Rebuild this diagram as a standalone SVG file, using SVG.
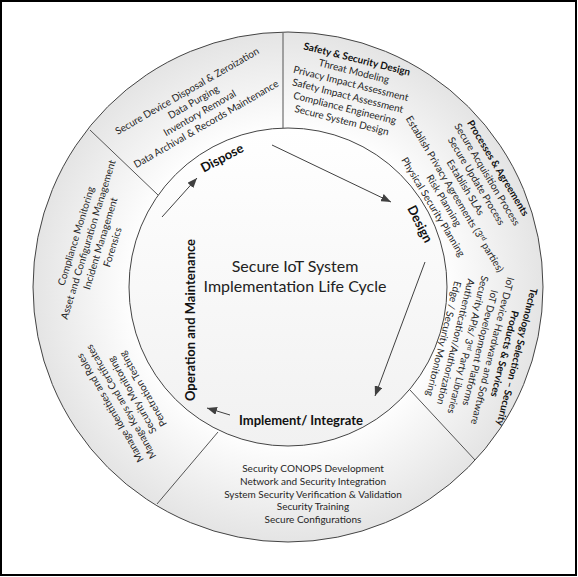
<svg xmlns="http://www.w3.org/2000/svg" width="578" height="577" viewBox="0 0 578 577">
<style>
.t{font-family:Lato,"Open Sans","Liberation Sans",sans-serif;font-size:10px;fill:#262626;text-anchor:middle}
.b{font-weight:bold;fill:#111}
.lbl{font-family:Lato,"Open Sans","Liberation Sans",sans-serif;font-size:13px;font-weight:bold;fill:#111;text-anchor:middle}
.ttl{font-family:Lato,"Open Sans","Liberation Sans",sans-serif;font-size:16px;fill:#222;text-anchor:middle}
.div{stroke:#555;stroke-width:1;fill:none}
.arr{stroke:#404040;stroke-width:1;fill:none;marker-end:url(#ah)}
</style>
<defs>
<radialGradient id="ring" cx="288" cy="287" r="256" gradientUnits="userSpaceOnUse">
<stop offset="0.6" stop-color="#ffffff"/>
<stop offset="1" stop-color="#e4e4e4"/>
</radialGradient>
<linearGradient id="core" x1="0" y1="0" x2="0" y2="1">
<stop offset="0" stop-color="#ffffff"/>
<stop offset="1" stop-color="#f1f1f1"/>
</linearGradient>
<marker id="ah" viewBox="0 0 10 8" refX="10" refY="4" markerWidth="10" markerHeight="8" markerUnits="userSpaceOnUse" orient="auto">
<path d="M0,0 L10,4 L0,8 Z" fill="#404040"/>
</marker>
</defs>
<rect x="0" y="0" width="578" height="577" fill="#ffffff"/>
<rect x="1" y="1" width="575" height="574" fill="none" stroke="#000" stroke-width="2"/>
<g id="wheel">
<circle cx="288" cy="287" r="255" fill="url(#ring)" stroke="#444" stroke-width="1"/>
<circle cx="288" cy="287" r="159" fill="url(#core)" stroke="#444" stroke-width="1"/>
<line class="div" x1="283" y1="33" x2="283" y2="128"/>
<line class="div" x1="90" y1="130" x2="158" y2="195"/>
<line class="div" x1="157" y1="504" x2="218" y2="432"/>
<line class="div" x1="410" y1="390" x2="475" y2="460"/>
</g>
<g id="title">
<text class="ttl" x="295" y="272">Secure IoT System</text>
<text class="ttl" x="295" y="292">Implementation Life Cycle</text>
</g>
<g id="dispose-sector" transform="translate(187,91) rotate(-30)">
<text class="t" x="0" y="3.5">Secure Device Disposal &amp; Zeroization</text>
<text class="t" x="0" y="16.2">Data Purging</text>
<text class="t" x="0" y="28.9">Inventory Removal</text>
<text class="t" x="0" y="41.6">Data Archival &amp; Records Maintenance</text>
</g>
<g id="operation-sector" transform="translate(76,236) rotate(-73)">
<text class="t" x="0" y="3.5">Compliance Monitoring</text>
<text class="t" x="0" y="16.2">Asset and Configuration Management</text>
<text class="t" x="0" y="28.9">Incident Management</text>
<text class="t" x="0" y="41.6">Forensics</text>
</g>
<g id="maintenance-sector" transform="translate(110,408) rotate(-120)">
<text class="t" x="0" y="3.5">Manage Identities and Roles</text>
<text class="t" x="0" y="16.2">Manage Keys and Certificates</text>
<text class="t" x="0" y="28.9">Security Monitoring</text>
<text class="t" x="0" y="41.6">Penetration Testing</text>
</g>
<g id="implement-sector">
<text class="t" x="313" y="472">Security CONOPS Development</text>
<text class="t" x="313" y="485">Network and Security Integration</text>
<text class="t" x="313" y="498">System Security Verification &amp; Validation</text>
<text class="t" x="313" y="510">Security Training</text>
<text class="t" x="313" y="523">Secure Configurations</text>
</g>
<g id="safety-sector" transform="translate(357,59) rotate(14)">
<text class="t b" x="0" y="3.5">Safety &amp; Security Design</text>
<text class="t" x="0" y="16.1">Threat Modeling</text>
<text class="t" x="0" y="28.7">Privacy Impact Assessment</text>
<text class="t" x="0" y="41.3">Safety Impact Assessment</text>
<text class="t" x="0" y="53.9">Compliance Engineering</text>
<text class="t" x="0" y="66.5">Secure System Design</text>
</g>
<g id="processes-sector" transform="translate(498,168) rotate(59)">
<text class="t b" x="0" y="3.5">Processes &amp; Agreements</text>
<text class="t" x="0" y="16.1">Secure Acquisition Process</text>
<text class="t" x="0" y="28.7">Secure Update Process</text>
<text class="t" x="0" y="41.3">Establish SLAs</text>
<text class="t" x="0" y="53.9">Establish Privacy Agreements (3<tspan font-size="6.5" dy="-3.5">rd</tspan><tspan dy="3.5"> parties)</tspan></text>
<text class="t" x="0" y="66.5">Risk Planning</text>
<text class="t" x="0" y="79.1">Physical Security Planning</text>
</g>
<g id="technology-sector" transform="translate(517,357) rotate(104)">
<text class="t b" x="0" y="3.5">Technology Selection – Security</text>
<text class="t b" x="0" y="16.1">Products &amp; Services</text>
<text class="t" x="0" y="28.7">IoT Device Hardware and Software</text>
<text class="t" x="0" y="41.3">IoT Development Platforms</text>
<text class="t" x="0" y="53.9">Security APIs/ 3<tspan font-size="6.5" dy="-3.5">rd</tspan><tspan dy="3.5"> Party Libraries</tspan></text>
<text class="t" x="0" y="66.5">Authentication/Authorization</text>
<text class="t" x="0" y="79.1">Edge / Security Monitoring</text>
</g>
<g id="dispose">
<text class="lbl" transform="translate(222,158) rotate(-28)" x="0" y="4.5">Dispose</text>
</g>
<g id="design">
<text class="lbl" transform="translate(420,224) rotate(63)" x="0" y="4.5">Design</text>
</g>
<g id="implement">
<text class="lbl" x="301" y="425">Implement/ Integrate</text>
</g>
<g id="operation">
<text class="lbl" transform="translate(190,320) rotate(-90)" x="0" y="4.5">Operation and Maintenance</text>
</g>
<g id="connectors">
<line class="arr" x1="162" y1="217" x2="197" y2="178"/>
<line class="arr" x1="272" y1="145" x2="391" y2="202"/>
<line class="arr" x1="425" y1="262" x2="375" y2="396"/>
<line class="arr" x1="230" y1="415" x2="207" y2="408"/>
</g>
</svg>
